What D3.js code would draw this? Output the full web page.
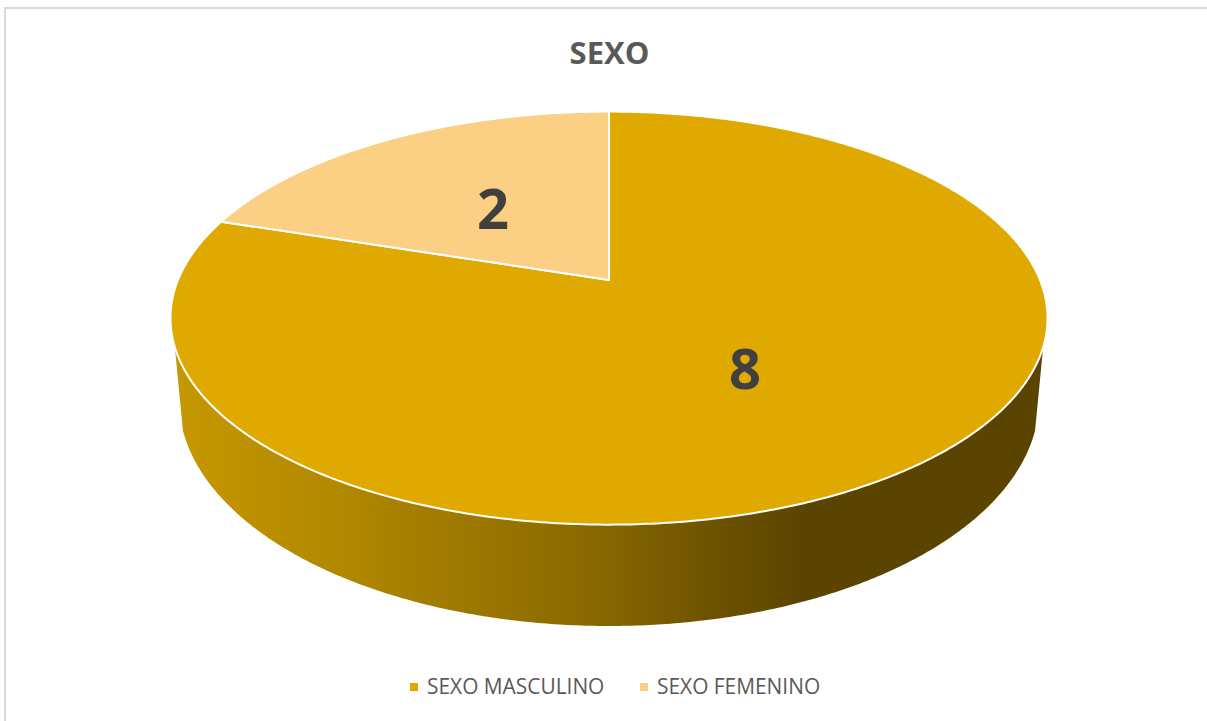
<!DOCTYPE html>
<html>
<head>
<meta charset="utf-8">
<script src="https://cdn.jsdelivr.net/npm/d3@7"></script>
<style>
  html, body { margin: 0; background: #fff; }
  svg { display: block; }
  text { font-family: "Open Sans", "Noto Sans", sans-serif; }
</style>
</head>
<body>
<div id="chart"></div>
<script>
const categories = ["SEXO MASCULINO", "SEXO FEMENINO"];
const values = [8, 2];
const colors = ["#dfa900", "#fbcf84"];
const title = "SEXO";

const width = 1207;
const height = 721;

// the pie is a tilted disc seen in perspective, (u, v) are disc coordinates
const top3d = { cx: 609, cy: 280, rx: 431, ry: 199.5, k: 0.1845 };
// bottom edge of the wall, plain ellipse
const bottom3d = { cx: 609, cy: 400, rx: 430, ry: 226 };

function projectTop(a) {
    const u = Math.sin(a);
    const v = -Math.cos(a);
    const d = 1 - top3d.k * v;
    return [top3d.cx + top3d.rx * u / d, top3d.cy + top3d.ry * v / d];
}

const svg = d3.select("#chart").append("svg")
    .attr("width", width)
    .attr("height", height);

// chart frame
svg.append("rect")
    .attr("x", 5)
    .attr("y", 8)
    .attr("width", width + 20)
    .attr("height", height + 20)
    .attr("fill", "#fff")
    .attr("stroke", "#d9d9d9")
    .attr("stroke-width", 2);

svg.append("text")
    .attr("x", 609.5)
    .attr("y", 64)
    .attr("text-anchor", "middle")
    .style("font-size", "31px")
    .style("font-weight", "700")
    .style("fill", "#595959")
    .text(title);

// side wall gradient
const grad = svg.append("defs").append("linearGradient")
    .attr("id", "wall")
    .attr("gradientUnits", "userSpaceOnUse")
    .attr("x1", 173).attr("x2", 1045)
    .attr("y1", 0).attr("y2", 0);
grad.append("stop").attr("offset", "0%").attr("stop-color", "#c69800");
grad.append("stop").attr("offset", "20%").attr("stop-color", "#b08700");
grad.append("stop").attr("offset", "50%").attr("stop-color", "#866600");
grad.append("stop").attr("offset", "63%").attr("stop-color", "#6b5100");
grad.append("stop").attr("offset", "72%").attr("stop-color", "#5b4400");
grad.append("stop").attr("offset", "100%").attr("stop-color", "#5b4400");

const line = d3.line();

// wall: front part of the rim, then back along the bottom ellipse
const rimStart = Math.PI / 2 + 0.135;   // right end of the visible rim
const rimEnd = 3 * Math.PI / 2 - 0.135; // left end
const rim = d3.range(rimStart, rimEnd, 0.01).concat([rimEnd]).map(projectTop);
const lower = d3.range(rimEnd, rimStart, -0.01).concat([rimStart]).map(a => {
    // a is measured from the top of the ellipse, walked back left to right
    return [bottom3d.cx + bottom3d.rx * Math.sin(a), bottom3d.cy - bottom3d.ry * Math.cos(a)];
});

svg.append("path")
    .attr("d", line(rim.concat(lower)) + "Z")
    .attr("fill", "url(#wall)");

// top slices from the pie layout
const pie = d3.pie().sort(null).value(d => d);
const arcs = pie(values);

function slicePath(d) {
    const steps = d3.range(d.startAngle, d.endAngle, 0.01).concat([d.endAngle]).map(projectTop);
    return line([[top3d.cx, top3d.cy]].concat(steps)) + "Z";
}

svg.selectAll(".slice")
    .data(arcs)
    .enter().append("path")
    .attr("class", "slice")
    .attr("d", slicePath)
    .attr("fill", (d, i) => colors[i])
    .attr("stroke", "#fff")
    .attr("stroke-width", 2)
    .attr("stroke-linejoin", "round");

// data labels
const labelPos = [[745, 389], [493, 229]];
svg.selectAll(".value")
    .data(values)
    .enter().append("text")
    .attr("class", "value")
    .attr("x", (d, i) => labelPos[i][0])
    .attr("y", (d, i) => labelPos[i][1])
    .attr("text-anchor", "middle")
    .style("font-size", "56px")
    .style("font-weight", "700")
    .style("fill", "#404040")
    .text(d => d);

// legend
const legendX = [410, 640];
const legend = svg.selectAll(".legend")
    .data(categories)
    .enter().append("g")
    .attr("class", "legend")
    .attr("transform", (d, i) => `translate(${legendX[i]} 683)`);

legend.append("rect")
    .attr("width", 8)
    .attr("height", 8)
    .attr("fill", (d, i) => colors[i]);

legend.append("text")
    .attr("x", 17)
    .attr("y", 11)
    .style("font-size", "20.9px")
    .style("fill", "#595959")
    .text(d => d);
</script>
</body>
</html>
